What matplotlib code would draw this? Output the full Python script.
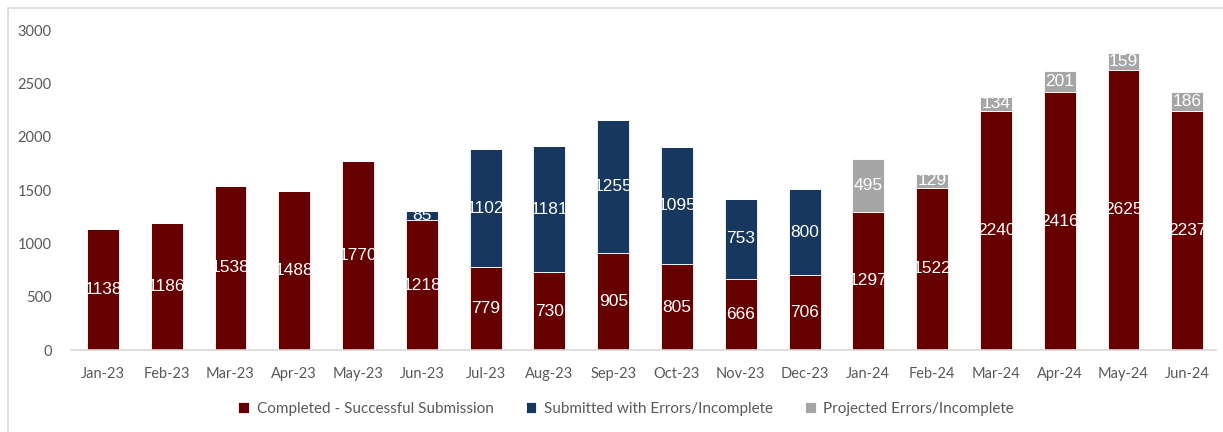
import matplotlib.pyplot as plt
import numpy as np
from matplotlib.patches import Rectangle

months = ['Jan-23', 'Feb-23', 'Mar-23', 'Apr-23', 'May-23', 'Jun-23', 'Jul-23', 'Aug-23', 'Sep-23',
          'Oct-23', 'Nov-23', 'Dec-23', 'Jan-24', 'Feb-24', 'Mar-24', 'Apr-24', 'May-24', 'Jun-24']
completed = [1138, 1186, 1538, 1488, 1770, 1218, 779, 730, 905, 805, 666, 706, 1297, 1522, 2240, 2416, 2625, 2237]
errors = [0, 0, 0, 0, 0, 85, 1102, 1181, 1255, 1095, 753, 800, 0, 0, 0, 0, 0, 0]
projected = [0, 0, 0, 0, 0, 0, 0, 0, 0, 0, 0, 0, 495, 129, 134, 201, 159, 186]

plt.rcParams['font.family'] = ['Lato', 'DejaVu Sans']

fig = plt.figure(figsize=(12.23, 4.32), dpi=100)
ax = fig.add_axes([71 / 1223, 82 / 432, (1216 - 71) / 1223, 320 / 432])

x = np.arange(len(months))
series = [
    (completed, '#660000', 'Completed - Successful Submission'),
    (errors, '#17375E', 'Submitted with Errors/Incomplete'),
    (projected, '#A6A6A6', 'Projected Errors/Incomplete'),
]
bottom = np.zeros(len(months))
for vals, color, label in series:
    vals = np.array(vals)
    ax.bar(x, vals, 0.5, bottom=bottom, color=color, edgecolor='white', linewidth=0.6, label=label)
    for xi, b, v in zip(x, bottom, vals):
        if v > 0:
            ax.text(xi, b + v / 2, str(v), ha='center', va='center', color='white', fontsize=12.5,
                    family=['Liberation Sans', 'DejaVu Sans'])
    bottom += vals

ax.set_xlim(-0.5, 17.45)
ax.set_ylim(0, 3000)
ax.set_yticks(range(0, 3001, 500))
ax.set_xticks(x)
ax.set_xticklabels(months)
for s in ['top', 'right', 'left']:
    ax.spines[s].set_visible(False)
ax.spines['bottom'].set_color('#D9D9D9')
ax.spines['bottom'].set_linewidth(1.2)
ax.tick_params(axis='both', length=0, colors='#595959', labelsize=10.5)
ax.tick_params(axis='x', pad=12)
ax.tick_params(axis='y', pad=14)

fig.legend(loc='center', bbox_to_anchor=(0.512, 23 / 432), ncol=3, frameon=False,
           handlelength=0.7, handleheight=0.7, columnspacing=2.1, handletextpad=0.5,
           fontsize=11, labelcolor='#595959')

fig.patches.append(Rectangle((8 / 1223, -0.1), 1.2, (424 / 432) + 0.1, transform=fig.transFigure,
                             fill=False, edgecolor='#D9D9D9', linewidth=1.2))

fig.savefig('out.png', dpi=100)
